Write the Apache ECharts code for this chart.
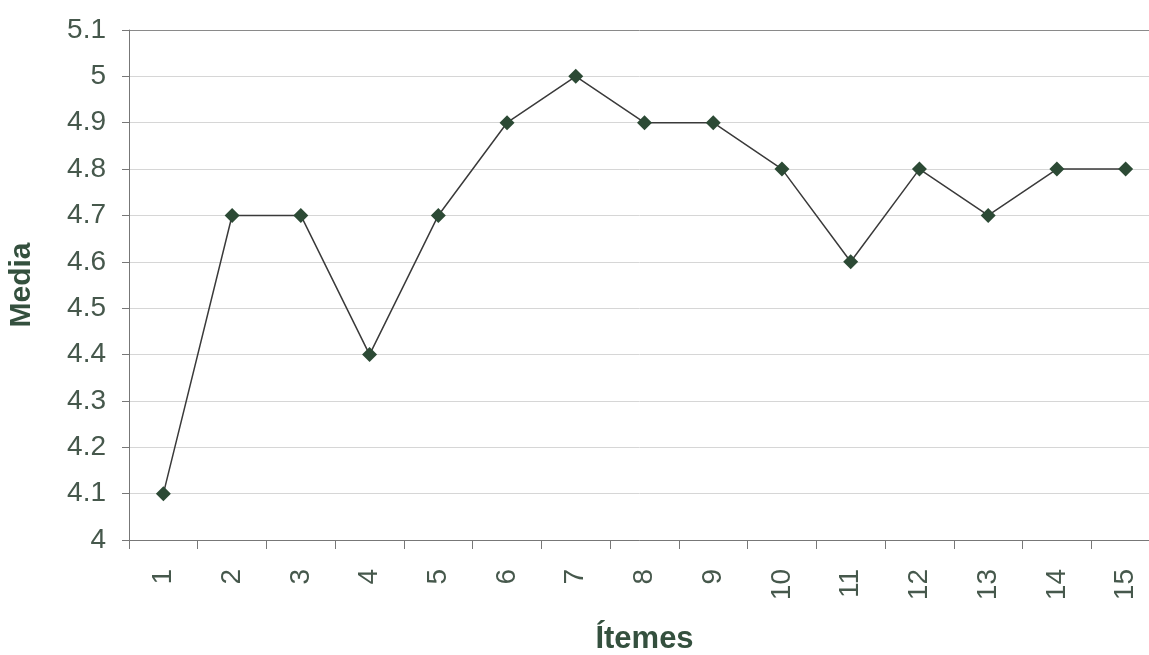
<!DOCTYPE html>
<html>
<head>
<meta charset="utf-8">
<script src="https://cdn.jsdelivr.net/npm/echarts@6/dist/echarts.min.js"></script>
<style>
  html, body { margin: 0; padding: 0; background: #ffffff; }
  #chart { width: 1149px; height: 655px; }
</style>
</head>
<body>
<div id="chart"></div>
<script>
// Mean score per item
const items = ['1', '2', '3', '4', '5', '6', '7', '8', '9', '10', '11', '12', '13', '14', '15'];
const means = [4.1, 4.7, 4.7, 4.4, 4.7, 4.9, 5.0, 4.9, 4.9, 4.8, 4.6, 4.8, 4.7, 4.8, 4.8];
const yMin = 4.0;
const yMax = 5.1;
const yStep = 0.1;

const textColor = '#46584c';
const nameColor = '#34503e';
const font = '"Liberation Sans", Arial, sans-serif';

// gridline colours: the top (5.1) line is drawn darker like a plot border
const gridColors = [];
for (let i = 0; i < 12; i++) gridColors.push(i === 11 ? '#8a8a8a' : '#d6d6d6');

const chart = echarts.init(document.getElementById('chart'), null, { renderer: 'canvas' });
chart.setOption({
  animation: false,
  backgroundColor: '#ffffff',
  grid: {
    left: 129, top: 30, width: 1031, bottom: 115,
    containLabel: false,
    outerBoundsMode: 'none'
  },
  xAxis: {
    type: 'category',
    data: items,
    boundaryGap: true,
    name: 'Ítemes',
    nameLocation: 'middle',
    nameGap: 84,
    nameTextStyle: { fontFamily: font, fontSize: 31, fontWeight: 'bold', color: nameColor },
    axisLine: { lineStyle: { color: '#777777', width: 1 } },
    axisTick: { show: true, length: 9, alignWithLabel: false, lineStyle: { color: '#777777' } },
    axisLabel: { rotate: 90, margin: 29, fontFamily: font, fontSize: 28, color: textColor },
    splitLine: { show: false }
  },
  yAxis: {
    type: 'value',
    min: yMin,
    max: yMax,
    interval: yStep,
    name: 'Media',
    nameLocation: 'middle',
    nameGap: 92,
    nameRotate: 90,
    nameTextStyle: { fontFamily: font, fontSize: 30, fontWeight: 'bold', color: nameColor },
    axisLine: { show: true, lineStyle: { color: '#777777', width: 1 } },
    axisTick: { show: true, length: 7, lineStyle: { color: '#777777' } },
    axisLabel: {
      margin: 23,
      fontFamily: font,
      fontSize: 28,
      color: textColor,
      formatter: v => String(Math.round(v * 10) / 10)
    },
    splitLine: { show: true, lineStyle: { color: gridColors, width: 1 } }
  },
  series: [{
    type: 'line',
    data: means,
    symbol: 'diamond',
    symbolSize: 15,
    itemStyle: { color: '#2c4a35' },
    lineStyle: { color: '#3a3a3a', width: 1.5 }
  }]
});
</script>
</body>
</html>
